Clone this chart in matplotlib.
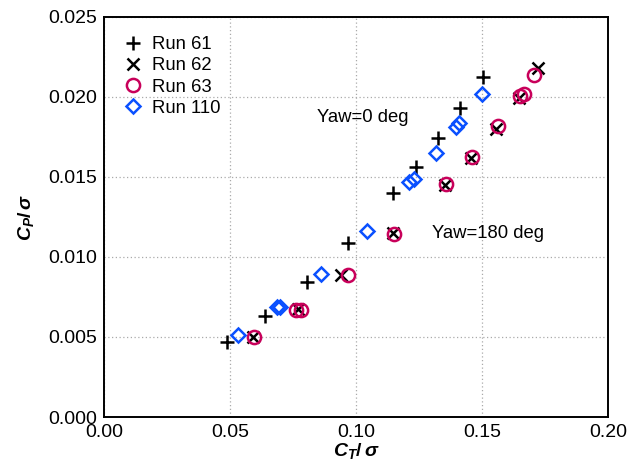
import matplotlib
matplotlib.use("Agg")
import matplotlib.pyplot as plt

plt.rcParams["font.family"] = ["Liberation Sans", "DejaVu Sans"]
plt.rcParams["mathtext.fontset"] = "custom"
plt.rcParams["mathtext.it"] = "Liberation Sans:italic:bold"
plt.rcParams["mathtext.rm"] = "Liberation Sans:bold"
plt.rcParams["mathtext.bf"] = "Liberation Sans:bold"

# ---- Data: C_T/sigma vs C_P/sigma per run ----
run61_ct = [0.0487, 0.0639, 0.0807, 0.0970, 0.1148, 0.1238, 0.1327, 0.1413, 0.1505]
run61_cp = [0.00469, 0.00629, 0.00844, 0.01088, 0.01396, 0.01559, 0.01740, 0.01927, 0.02121]

run62_ct = [0.0590, 0.0770, 0.0940, 0.1148, 0.1355, 0.1455, 0.1555, 0.1648, 0.1724]
run62_cp = [0.00500, 0.00672, 0.00886, 0.01148, 0.01448, 0.01620, 0.01800, 0.01995, 0.02178]

run63_ct = [0.0595, 0.0762, 0.0780, 0.0968, 0.1152, 0.1358, 0.1460, 0.1563, 0.1651, 0.1665, 0.1706]
run63_cp = [0.00500, 0.00670, 0.00670, 0.00886, 0.01146, 0.01454, 0.01625, 0.01815, 0.02004, 0.02015, 0.02136]

run110_ct = [0.0533, 0.0685, 0.0698, 0.0861, 0.1042, 0.1212, 0.1230, 0.1317, 0.1397, 0.1410, 0.1499]
run110_cp = [0.00510, 0.00684, 0.00684, 0.00896, 0.01163, 0.01469, 0.01484, 0.01646, 0.01813, 0.01833, 0.02017]

xticks = [0.00, 0.05, 0.10, 0.15, 0.20]
yticks = [0.000, 0.005, 0.010, 0.015, 0.020, 0.025]

fig = plt.figure(figsize=(6.3, 4.71), dpi=100)
ax = fig.add_axes([0.165, 0.1146, 0.800, 0.850])

ax.plot(run61_ct, run61_cp, ls="none", marker="+", ms=10, mew=1.8, color="black", label="Run 61")
ax.plot(run62_ct, run62_cp, ls="none", marker="x", ms=8, mew=1.8, color="black", label="Run 62")
ax.plot(run63_ct, run63_cp, ls="none", marker="o", ms=9.5, mew=1.8, mfc="none", mec="#c8005a", label="Run 63")
ax.plot(run110_ct, run110_cp, ls="none", marker="D", ms=7, mew=1.8, mfc="none", mec="#0a50ff", label="Run 110")

ax.text(0.0844, 0.01873, "Yaw=0 deg", fontsize=13.3, va="center", ha="left")
ax.text(0.130, 0.01148, "Yaw=180 deg", fontsize=13.3, va="center", ha="left")

ax.set_xlim(0, 0.2)
ax.set_ylim(0, 0.025)
ax.set_xticks(xticks)
ax.set_yticks(yticks)
ax.set_xticklabels([f"{v:.2f}" for v in xticks])
ax.set_yticklabels([f"{v:.3f}" for v in yticks])
ax.tick_params(length=0, labelsize=14, pad=5)
ax.grid(True, ls=(0, (1, 2)), color="#aaaaaa", lw=0.9)
for s in ax.spines.values():
    s.set_linewidth(1.4)

ax.set_xlabel(r"$C_T/\,\sigma$", fontsize=14, labelpad=0)
ax.set_ylabel(r"$C_P/\,\sigma$", fontsize=14, labelpad=9)

ax.legend(loc="upper left", frameon=False, fontsize=13.3, handlelength=1.0,
          handletextpad=0.5, labelspacing=0.22, borderaxespad=0.3,
          bbox_to_anchor=(0.014, 0.983))

fig.savefig("out.png", dpi=100)
